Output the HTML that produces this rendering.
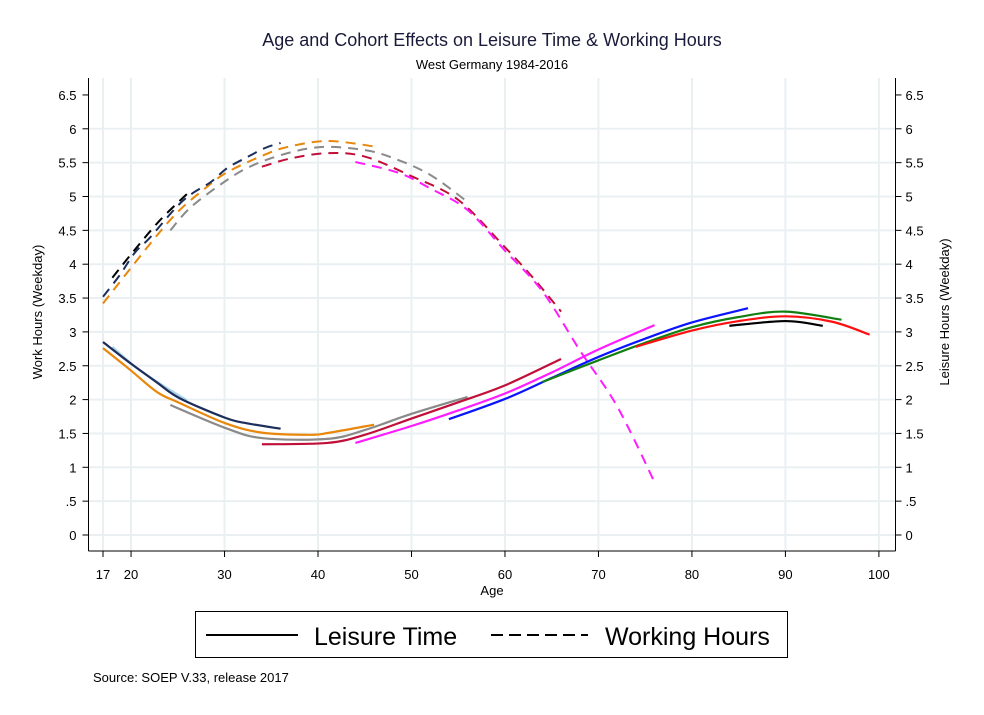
<!DOCTYPE html>
<html><head><meta charset="utf-8">
<style>
body{margin:0;background:#fff;}
svg{display:block;font-family:"Liberation Sans",Arial,sans-serif;}
</style></head>
<body>
<svg id="chart" width="984" height="715" xmlns="http://www.w3.org/2000/svg">
<rect x="0" y="0" width="984" height="715" fill="#fff"/>
<text x="492" y="46" text-anchor="middle" font-size="18" fill="#1a1a3a">Age and Cohort Effects on Leisure Time &amp; Working Hours</text>
<text x="492" y="69" text-anchor="middle" font-size="13" fill="#000">West Germany 1984-2016</text>
<g id="grid"></g>
<g id="series"></g>
<g id="axes"></g>
<text x="492" y="595" text-anchor="middle" font-size="13">Age</text>
<text transform="translate(42,312) rotate(-90)" text-anchor="middle" font-size="13">Work Hours (Weekday)</text>
<text transform="translate(949,312) rotate(-90)" text-anchor="middle" font-size="13">Leisure Hours (Weekday)</text>
<g>
<rect x="195.5" y="611.5" width="592" height="46" fill="#fff" stroke="#000" stroke-width="1"/>
<line x1="206" y1="635" x2="298" y2="635" stroke="#000" stroke-width="2"/>
<text x="314" y="645" font-size="25">Leisure Time</text>
<line x1="491" y1="635" x2="588" y2="635" stroke="#000" stroke-width="2" stroke-dasharray="12,6"/>
<text x="605" y="645" font-size="25">Working Hours</text>
</g>
<text x="93" y="682" font-size="13">Source: SOEP V.33, release 2017</text>
</svg>
<script>
const xTicks=[17,20,30,40,50,60,70,80,90,100];
const yTicks=[0,0.5,1,1.5,2,2.5,3,3.5,4,4.5,5,5.5,6,6.5];
const yTickLabels=["0",".5","1","1.5","2","2.5","3","3.5","4","4.5","5","5.5","6","6.5"];
// Leisure (solid) series: [age, hours]
const leisureNavy=[[17,2.85],[19.9,2.54],[22.8,2.25],[25.2,2.02],[30.1,1.73],[32.4,1.65],[36,1.57]];
const leisureLightBlue=[[18,2.78],[20.6,2.47],[23.5,2.2],[26,1.99]];
const leisureOrange=[[17,2.76],[19.9,2.44],[22.8,2.11],[25.2,1.95],[30.1,1.65],[34.1,1.51],[39.2,1.48],[41.2,1.51],[46,1.63]];
const leisureGray=[[24.2,1.92],[30.1,1.58],[34.1,1.43],[41,1.42],[45,1.55],[50,1.79],[56,2.04]];
const leisureCrimson=[[34,1.34],[41,1.36],[45,1.48],[50,1.72],[55,1.96],[60,2.21],[66,2.6]];
const leisureMagenta=[[44,1.36],[50,1.61],[55,1.84],[60,2.09],[65,2.4],[70,2.74],[76,3.1]];
const leisureBlue=[[54,1.71],[60,2.01],[65,2.32],[70,2.63],[75,2.9],[80,3.14],[86,3.35]];
const leisureGreen=[[64,2.26],[70,2.58],[75,2.84],[80,3.07],[85,3.22],[90,3.3],[96,3.18]];
const leisureRed=[[74,2.78],[80,3.02],[85,3.16],[90,3.23],[95,3.15],[99,2.96]];
const leisureBlack=[[84,3.09],[90,3.16],[94,3.09]];
// Working hours (dashed) series
const workBlack=[[18,3.8],[20.2,4.18],[23.1,4.65],[26,5.04]];
const workNavy=[[17,3.52],[18.8,3.84],[20.4,4.17],[22,4.39],[24.9,4.85],[26.6,5.05],[28.5,5.21],[30.3,5.42],[32.4,5.58],[34.4,5.72],[36,5.79]];
const workOrange=[[17,3.42],[19.9,3.93],[22.8,4.43],[25.2,4.8],[28.1,5.14],[30.3,5.36],[34,5.6],[36.7,5.73],[41,5.82],[46,5.74]];
const workGray=[[24.2,4.5],[26.3,4.83],[29.5,5.17],[32.4,5.42],[36,5.61],[40.2,5.73],[44.8,5.69],[48,5.57],[52,5.32],[56,4.92]];
const workCrimson=[[34,5.44],[37,5.56],[41,5.64],[45,5.59],[50,5.3],[55,4.95],[60,4.25],[63,3.8],[66,3.3]];
const workMagenta=[[44,5.51],[48.6,5.35],[52,5.12],[56,4.8],[60,4.2],[64,3.6],[68,2.73],[72,1.9],[76,0.78]];

const svgNS="http://www.w3.org/2000/svg";
const X0=88.5,X1=895.5,Y0=551,Y1=78;
function xs(a){return 103+(a-17)*(878.9-103)/83;}
function ys(v){return 535-v*67.7;}
function mk(tag,attrs,parent){const e=document.createElementNS(svgNS,tag);for(const k in attrs)e.setAttribute(k,attrs[k]);parent.appendChild(e);return e;}
const grid=document.getElementById('grid'),axes=document.getElementById('axes'),ser=document.getElementById('series');
xTicks.forEach(t=>{const l=mk('line',{x1:xs(t),x2:xs(t),y1:Y1,y2:Y0,stroke:'#eaf0f2','stroke-width':2},grid);

});
yTicks.forEach(t=>{if(t>6)return;const l=mk('line',{x1:X0,x2:X1,y1:ys(t),y2:ys(t),stroke:'#eaf0f2','stroke-width':2},grid);

});
mk('line',{x1:X0,x2:X0,y1:Y1,y2:Y0,stroke:'#000','stroke-width':1},axes);
mk('line',{x1:X1,x2:X1,y1:Y1,y2:Y0,stroke:'#000','stroke-width':1},axes);
mk('line',{x1:X0,x2:X1,y1:Y0,y2:Y0,stroke:'#000','stroke-width':1},axes);
xTicks.forEach(t=>{mk('line',{x1:xs(t),x2:xs(t),y1:Y0,y2:Y0+6,stroke:'#000'},axes);
const tx=mk('text',{x:xs(t),y:Y0+28,'text-anchor':'middle','font-size':13},axes);tx.textContent=t;

});
yTicks.forEach((t,i)=>{const y=ys(t);
mk('line',{x1:X0-6,x2:X0,y1:y,y2:y,stroke:'#000'},axes);
mk('line',{x1:X1,x2:X1+6,y1:y,y2:y,stroke:'#000'},axes);
const a=mk('text',{x:X0-12,y:y+5,'text-anchor':'end','font-size':13},axes);a.textContent=yTickLabels[i];


const b=mk('text',{x:X1+10,y:y+5,'font-size':13},axes);b.textContent=yTickLabels[i];

});
function path(pts){const p=pts.map(d=>[xs(d[0]),ys(d[1])]);let s='M'+p[0][0]+','+p[0][1];
for(let i=0;i<p.length-1;i++){const p0=p[i-1]||p[i],p1=p[i],p2=p[i+1],p3=p[i+2]||p2;
s+=' C'+(p1[0]+(p2[0]-p0[0])/6)+','+(p1[1]+(p2[1]-p0[1])/6)+' '+(p2[0]-(p3[0]-p1[0])/6)+','+(p2[1]-(p3[1]-p1[1])/6)+' '+p2[0]+','+p2[1];}return s;}
function draw(data,color,dashed,name){const e=mk('path',{d:path(data),fill:'none',stroke:color,'stroke-width':dashed?2:2.2,'stroke-dasharray':dashed?'10,7':'none'},ser);

}
draw(workGray,'#8a8a8a',true,'work-cohort-gray');
draw(workOrange,'#e8870a',true,'work-cohort-orange');
draw(workNavy,'#1c2e5c',true,'work-cohort-navy');
draw(workBlack,'#000',true,'work-cohort-black');
draw(workCrimson,'#c0103a',true,'work-cohort-crimson');
draw(workMagenta,'#ff1cff',true,'work-cohort-magenta');
draw(leisureLightBlue,'#a8d4e6',false,'leisure-cohort-lightblue');
draw(leisureGray,'#8a8a8a',false,'leisure-cohort-gray');
draw(leisureOrange,'#e8870a',false,'leisure-cohort-orange');
draw(leisureNavy,'#1c2e5c',false,'leisure-cohort-navy');
draw(leisureCrimson,'#c0103a',false,'leisure-cohort-crimson');
draw(leisureMagenta,'#ff1cff',false,'leisure-cohort-magenta');
draw(leisureBlue,'#0a14ff',false,'leisure-cohort-blue');
draw(leisureGreen,'#118011',false,'leisure-cohort-green');
draw(leisureRed,'#ff1010',false,'leisure-cohort-red');
draw(leisureBlack,'#000',false,'leisure-cohort-black');
</script>
</body></html>
